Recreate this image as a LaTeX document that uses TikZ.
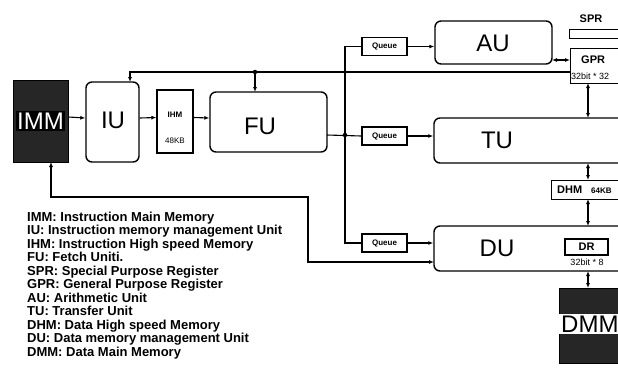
\documentclass[tikz,border=0pt]{standalone}
\usepackage{fontspec}
\setmainfont{Liberation Sans}
\usetikzlibrary{arrows.meta,calc}
\tikzset{
  rbox/.style={draw, line width=1.4pt, rounded corners=6pt, inner sep=0pt},
  sbox/.style={draw, line width=1.2pt, inner sep=0pt, fill=white},
  qbox/.style={draw, line width=1.1pt, inner sep=0pt, minimum width=45pt, minimum height=18pt, font=\bfseries\fontsize{8}{8}\selectfont},
  mem/.style={draw, line width=1pt, fill=black!85, inner sep=0pt},
  big/.style={font=\fontsize{24}{24}\selectfont},
  conn/.style={line width=1.1pt},
  arr/.style={conn, -{Latex[length=5pt,width=4pt]}},
  darr/.style={conn, {Latex[length=5pt,width=4pt]}-{Latex[length=5pt,width=4pt]}},
  dot/.style={circle, fill=black, inner sep=0pt, minimum size=4.5pt},
  lbl/.style={inner sep=0pt}
}
\begin{document}
\begin{tikzpicture}[x=1pt, y=-1pt]
\useasboundingbox (0,0) rectangle (618,368);
\clip (0,0) rectangle (618,368);
% memories
\node[mem, minimum width=55pt, minimum height=82pt] (IMM) at (40.5,121) {};
\node[lbl, fill=black, text=white, big, inner xsep=1pt, inner ysep=2pt] (IMMt) at (40.5,121) {IMM};
\node[mem, minimum width=81pt, minimum height=75pt] (DMM) at (599.5,325.5) {};
\node[lbl, fill=white, big, inner xsep=2pt, inner ysep=2pt, anchor=west] (DMMt) at (559,324) {DMM};
% instruction side
\node[rbox, minimum width=53pt, minimum height=80pt] (IU) at (112.5,122) {};
\node[lbl, big] (IUt) at (113,120) {IU};
\node[sbox, minimum width=36pt, minimum height=63pt] (IHM) at (175,121.5) {};
\node[lbl, font=\bfseries\fontsize{8}{8}\selectfont] (IHMt) at (175,115) {IHM};
\node[lbl, font=\fontsize{8}{8}\selectfont] (IHMs) at (175,141) {48KB};
\node[rbox, minimum width=117pt, minimum height=60pt] (FU) at (268.5,122) {};
\node[lbl, big] (FUt) at (260,126) {FU};
% queues
\node[qbox] (QAU) at (384.5,46.5) {Queue};
\node[qbox] (QTU) at (384.5,136) {Queue};
\node[qbox] (QDU) at (384.5,243) {Queue};
% units
\node[rbox, minimum width=117pt, minimum height=43pt] (AU) at (493.5,42.5) {};
\node[lbl, big] (AUt) at (493,43) {AU};
\node[rbox, minimum width=220pt, minimum height=45pt] (TU) at (544,140.5) {};
\node[lbl, big] (TUt) at (497,140) {TU};
\node[rbox, minimum width=220pt, minimum height=45pt] (DU) at (544,248.5) {};
\node[lbl, big] (DUt) at (497,248) {DU};
% registers
\node[lbl, font=\bfseries\fontsize{11}{11}\selectfont] (SPRt) at (591,19) {SPR};
\node[sbox, minimum width=70pt, minimum height=9pt, anchor=north west] (SPR) at (569,29) {};
\node[sbox, minimum width=70pt, minimum height=35pt, anchor=north west] (GPR) at (570,48) {};
\node[lbl, font=\bfseries\fontsize{11}{11}\selectfont, anchor=west] (GPRt) at (581,60) {GPR};
\node[lbl, font=\fontsize{9}{9}\selectfont, anchor=west] (GPRs) at (571,76) {32bit * 32};
\node[sbox, minimum width=80pt, minimum height=19pt, anchor=north west] (DHM) at (551,180) {};
\node[lbl, font=\bfseries\fontsize{11}{11}\selectfont, anchor=west] (DHMt) at (557,189.5) {DHM};
\node[lbl, font=\bfseries\fontsize{8}{8}\selectfont, anchor=west] (DHMs) at (591,190.5) {64KB};
\node[sbox, line width=1.3pt, minimum width=43pt, minimum height=16pt] (DR) at (586.5,247) {};
\node[lbl, font=\bfseries\fontsize{11}{11}\selectfont] (DRt) at (586.5,247) {DR};
\node[lbl, font=\fontsize{9}{9}\selectfont] (DRs) at (587,262.5) {32bit * 8};
% coordinates
\coordinate (g1) at (570,72);
\coordinate (iuin) at (130,82);
\coordinate (fj) at (255,72);
\coordinate (fuin) at (255,92);
\coordinate (fuout) at (327,135);
\coordinate (bj) at (345,135);
\coordinate (auo) at (552,60);
\coordinate (gpi) at (570,60);
\coordinate (gpb) at (588,83);
\coordinate (tut) at (588,118);
\coordinate (tub) at (588,163);
\coordinate (dht) at (588,180);
\coordinate (dhb) at (588,199);
\coordinate (dut) at (588,226);
\coordinate (dub) at (588,271);
\coordinate (dmt) at (588,288);
\coordinate (immb) at (51,162);
\coordinate (c1) at (308,197);
\coordinate (duin) at (434,262);
% connectors
\draw[arr] ([yshift=4pt]IMM.east) -- ([yshift=4pt]IU.west);
\draw[arr] ([yshift=4pt]IU.east) -- ([yshift=4pt]IHM.west);
\draw[arr] ([yshift=4pt]IHM.east) -- ([yshift=4pt]FU.west);
\draw[arr] (g1) -| (iuin);
\draw[arr] (fj) -- (fuin);
\node[dot] (fjd) at (fj) {};
\draw[conn] (fuout) -- (QTU.west);
\draw[conn] (QAU.west) -| (bj) |- (QDU.west);
\node[dot] (bjd) at (bj) {};
\draw[arr] (QAU.east) -- (QAU.east -| AU.west);
\draw[arr] (QTU.east) -- (QTU.east -| TU.west);
\draw[arr] (QDU.east) -- (QDU.east -| DU.west);
\draw[darr] (auo) -- (gpi);
\draw[darr] (gpb) -- (tut);
\draw[darr] (tub) -- (dht);
\draw[darr] (dhb) -- (dut);
\draw[darr] (dub) -- (dmt);
\draw[darr] (immb) |- (c1) |- (duin);
% legend
\node[lbl, anchor=north west, align=left, font=\bfseries\fontsize{13}{13.5}\selectfont] (legend) at (27,211.5) {IMM: Instruction Main Memory\\
IU: Instruction memory management Unit\\
IHM: Instruction High speed Memory\\
FU: Fetch Uniti.\\
SPR: Special Purpose Register\\
GPR: General Purpose Register\\
AU: Arithmetic Unit\\
TU: Transfer Unit\\
DHM: Data High speed Memory\\
DU: Data memory management Unit\\
DMM: Data Main Memory};
\end{tikzpicture}
\end{document}
